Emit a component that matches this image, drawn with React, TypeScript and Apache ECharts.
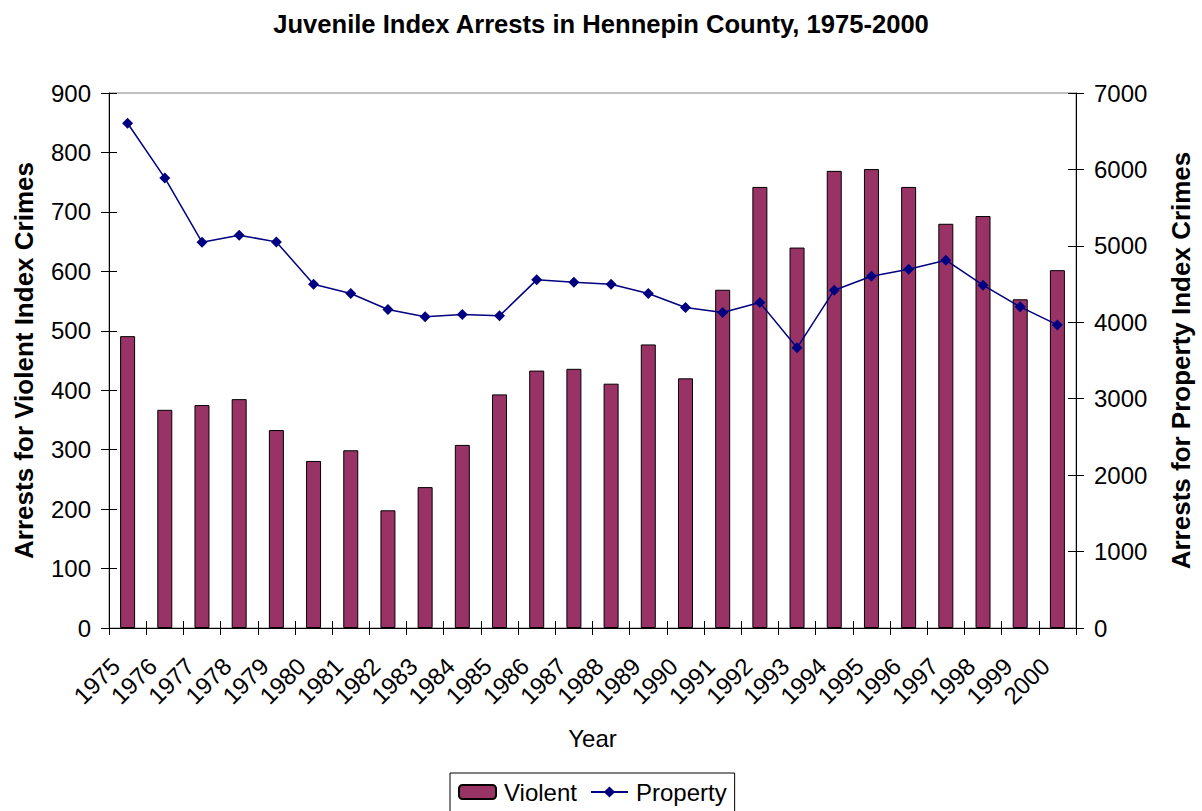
import React, { useEffect, useRef } from "react";
import * as echarts from "echarts";

const years = ["1975","1976","1977","1978","1979","1980","1981","1982","1983","1984","1985","1986","1987","1988","1989","1990","1991","1992","1993","1994","1995","1996","1997","1998","1999","2000"];
const violent = [491,367,375,385,333,281,299,198,237,308,393,433,436,411,477,420,569,742,640,769,772,742,680,693,553,602];
const property = [6604,5889,5048,5139,5052,4498,4377,4167,4071,4102,4084,4555,4525,4498,4377,4194,4128,4259,3666,4420,4603,4695,4812,4485,4202,3966];

const FONT = "Liberation Sans, Arial, sans-serif";

export default function App() {
  const ref = useRef<HTMLDivElement>(null);
  useEffect(() => {
    document.body.style.margin = "0";
    const chart = echarts.init(ref.current!, null, { renderer: "svg" });
    const hiddenY = (pos: "left" | "right", max: number, interval: number) => ({
      type: "value",
      position: pos,
      min: 0,
      max,
      interval,
      axisLine: { show: false },
      axisTick: { show: true, inside: true, length: 8, lineStyle: { color: "#000" } },
      axisLabel: { show: false },
      splitLine: { show: false },
    });
    chart.setOption({
      animation: false,
      textStyle: { fontFamily: FONT },
      title: {
        text: "Juvenile Index Arrests in Hennepin County, 1975-2000",
        left: "center",
        top: 6,
        textStyle: { fontFamily: FONT, fontSize: 25.6, fontWeight: "bold", color: "#000" },
      },
      grid: {
        left: 109,
        right: 122,
        top: 93,
        bottom: 183,
        containLabel: false,
        show: true,
        borderColor: "#808080",
        borderWidth: 1,
        backgroundColor: "transparent",
      },
      legend: {
        left: 450,
        top: 773,
        padding: [7, 8, 8, 8],
        borderColor: "#000",
        borderWidth: 1,
        itemWidth: 37,
        itemHeight: 14,
        itemGap: 13,
        textStyle: { fontFamily: FONT, fontSize: 24, color: "#000", padding: [0, 0, 0, 3] },
        data: ["Violent", "Property"],
      },
      xAxis: [
        {
          type: "category",
          data: years,
          name: "Year",
          nameLocation: "middle",
          nameGap: 98,
          nameTextStyle: { fontFamily: FONT, fontSize: 24, color: "#000" },
          axisLine: { lineStyle: { color: "#000", width: 1 } },
          axisTick: { show: true, alignWithLabel: false, length: 7, lineStyle: { color: "#000" } },
          axisLabel: { rotate: 45, margin: 22, padding: [0, 17, 0, 0], fontFamily: FONT, fontSize: 24, color: "#000", interval: 0 },
          splitLine: { show: false },
        },
        {
          type: "category",
          data: years,
          position: "bottom",
          axisLine: { show: false },
          axisTick: { show: true, inside: true, length: 7, lineStyle: { color: "#000" } },
          axisLabel: { show: false },
          splitLine: { show: false },
        },
      ],
      yAxis: [
        {
          type: "value",
          position: "left",
          min: 0,
          max: 900,
          interval: 100,
          name: "Arrests for Violent Index Crimes",
          nameLocation: "middle",
          nameGap: 72,
          nameTextStyle: { fontFamily: FONT, fontSize: 26, fontWeight: "bold", color: "#000" },
          axisLine: { show: true, lineStyle: { color: "#000", width: 1 } },
          axisTick: { show: true, length: 8, lineStyle: { color: "#000" } },
          axisLabel: { margin: 18, fontFamily: FONT, fontSize: 24, color: "#000" },
          splitLine: { show: false },
        },
        {
          type: "value",
          position: "right",
          min: 0,
          max: 7000,
          interval: 1000,
          name: "Arrests for Property Index Crimes",
          nameLocation: "middle",
          nameGap: 92,
          nameTextStyle: { fontFamily: FONT, fontSize: 26, fontWeight: "bold", color: "#000" },
          axisLine: { show: true, lineStyle: { color: "#000", width: 1 } },
          axisTick: { show: true, length: 8, lineStyle: { color: "#000" } },
          axisLabel: { margin: 18, fontFamily: FONT, fontSize: 24, color: "#000", formatter: (v: number) => String(v) },
          splitLine: { show: false },
        },
        hiddenY("left", 900, 100),
        hiddenY("right", 7000, 1000),
      ],
      series: [
        {
          name: "Violent",
          type: "bar",
          xAxisIndex: 0,
          yAxisIndex: 0,
          data: violent,
          barWidth: 15,
          itemStyle: { color: "#993366", borderColor: "#000", borderWidth: 1 },
        },
        {
          name: "Property",
          type: "line",
          xAxisIndex: 0,
          yAxisIndex: 1,
          data: property,
          symbol: "diamond",
          symbolSize: 11,
          lineStyle: { color: "#000080", width: 1.5 },
          itemStyle: { color: "#000080" },
        },
      ],
    });
    return () => chart.dispose();
  }, []);
  return <div ref={ref} style={{ width: 1202, height: 811 }} />;
}
